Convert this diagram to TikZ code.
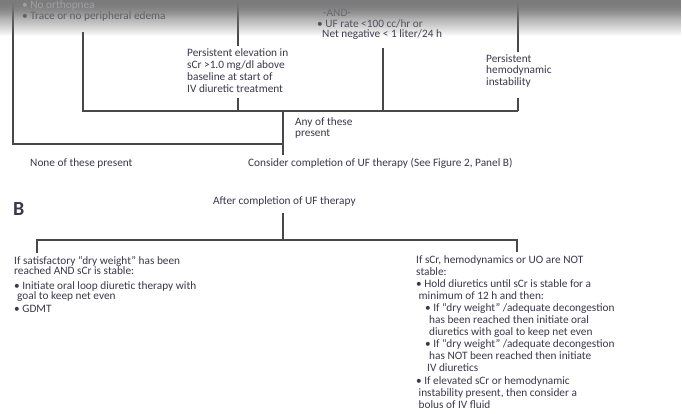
\documentclass[tikz,border=0pt]{standalone}
\usepackage{fontspec}
\setmainfont{Carlito}
\usetikzlibrary{fadings}
\definecolor{ink}{RGB}{58,56,76}
\definecolor{rule}{RGB}{72,72,72}
\definecolor{shade}{RGB}{104,104,104}
\definecolor{faint}{RGB}{160,160,164}
% darkening band along the top edge
\tikzfading[name=topfade, top color=transparent!3, bottom color=transparent!100, middle color=transparent!66]
\begin{document}
\begin{tikzpicture}[x=1pt,y=-1pt,
  txt/.style={font=\fontsize{11.3}{12}\selectfont, text=ink, inner sep=0pt, align=left},
  wire/.style={draw=rule, line width=1.4pt},
]
\useasboundingbox[fill=white] (0,0) rectangle (682,413);

% ---------- Panel A (lower part) ----------
\node[txt, anchor=west] (edema) at (22,16) {• Trace or no peripheral edema};
\node[txt, anchor=west] (and) at (323,13) {-AND-};
\node[txt, anchor=west] (ufrate) at (317,24) {• UF rate <100 cc/hr or};
\node[txt, anchor=west] (netneg) at (322,35) {Net negative < 1 liter/24 h};

\node[txt, anchor=north west, inner ysep=3pt] (scr) at (187,45.5)
  {Persistent elevation in\\sCr >1.0 mg/dl above\\baseline at start of\\IV diuretic treatment};
\node[txt, anchor=north west, inner ysep=3pt, font=\fontsize{11.3}{11.5}\selectfont] (hemo) at (486,51.5)
  {Persistent\\hemodynamic\\instability};
\node[txt, anchor=north west, font=\fontsize{11.3}{11}\selectfont] (any) at (295,117.5)
  {Any of these\\present};
\node[txt, anchor=west] (none) at (30,163) {None of these present};
\node[txt, anchor=west] (consider) at (248,163) {Consider completion of UF therapy (See Figure 2, Panel B)};

\coordinate (leftTop) at (13,0);
\coordinate (leftCorner) at (13,144);
\coordinate (mergeL) at (283,144);
\coordinate (mergeEnd) at (283,155);
\coordinate (busL) at (83,111);
\coordinate (busSCr) at (238,111);
\coordinate (busM) at (283,111);
\coordinate (busUF) at (383,111);
\coordinate (busR) at (518,111);
\coordinate (critStub) at (83,32);
\coordinate (ufStub) at (383,48);
\coordinate (scrTop) at (238,0);
\coordinate (scrFoot) at (238,98);
\coordinate (hemoTop) at (518,0);
\coordinate (hemoFoot) at (518,98);

\draw[wire] (leftTop) -- (leftCorner) -- (mergeL);
\draw[wire] (critStub) -- (busL) -- (busR);
\draw[wire] (ufStub) -- (busUF);
\draw[wire] (scrTop) -- (scr.north -| scrTop);
\draw[wire] (scrFoot) -- (busSCr);
\draw[wire] (hemoTop) -- (hemo.north -| hemoTop);
\draw[wire] (hemoFoot) -- (busR);
\draw[wire] (busM) -- (mergeEnd);

% shadow over the top edge
\fill[shade, path fading=topfade] (0,0) rectangle (682,36);
\node[txt, anchor=west, text=faint] (orthopnea) at (22,5) {• No orthopnea};

% ---------- Panel B ----------
\node[anchor=west, inner sep=0pt, text=ink, font=\fontsize{20}{20}\selectfont\bfseries] (panelB) at (13,209) {B};
\node[txt, anchor=west] (after) at (213,201) {After completion of UF therapy};

\coordinate (afterStub) at (283,213);
\coordinate (splitM) at (283,240);
\coordinate (splitL) at (37,240);
\coordinate (splitR) at (517,240);
\coordinate (keepStub) at (37,253);
\coordinate (holdStub) at (517,252);

\draw[wire] (afterStub) -- (splitM);
\draw[wire] (keepStub) -- (splitL) -- (splitR) -- (holdStub);

\node[txt, anchor=north west, font=\fontsize{11.3}{10}\selectfont] (keep) at (14,256)
  {If satisfactory “dry weight” has been\\reached AND sCr is stable:\\[5pt]%
   • Initiate oral loop diuretic therapy with\\\hspace*{3pt}goal to keep net even\\[3pt]%
   • GDMT};

\node[txt, anchor=north west, font=\fontsize{11.3}{12.1}\selectfont] (hold) at (416,255)
  {If sCr, hemodynamics or UO are NOT\\stable:\\%
   • Hold diuretics until sCr is stable for a\\\hspace*{2.5pt}minimum of 12 h and then:\\%
   \hspace*{9pt}• If “dry weight” /adequate decongestion\\\hspace*{13pt}has been reached then initiate oral\\%
   \hspace*{13pt}diuretics with goal to keep net even\\%
   \hspace*{9pt}• If “dry weight” /adequate decongestion\\\hspace*{13pt}has NOT been reached then initiate\\%
   \hspace*{11pt}IV diuretics\\%
   • If elevated sCr or hemodynamic\\\hspace*{2.5pt}instability present, then consider a\\\hspace*{2.5pt}bolus of IV fluid};
\end{tikzpicture}
\end{document}
